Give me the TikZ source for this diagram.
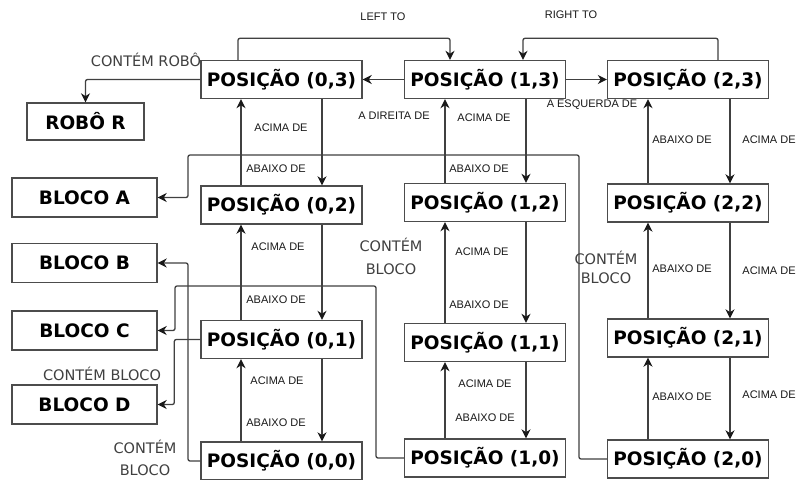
\documentclass[tikz,border=0pt]{standalone}
\usepackage{fontspec}
\setmainfont{DejaVu Sans}
\newfontfamily\smallfont{Liberation Sans}
\usetikzlibrary{arrows.meta}
\begin{document}
\begin{tikzpicture}[x=1pt,y=-1pt,
  posbox/.style={draw=black!70, line width=1.4pt, fill=white, minimum width=161pt, minimum height=38pt, inner sep=0pt, font=\fontsize{18.5}{20}\selectfont\bfseries},
  blkbox/.style={posbox, minimum width=145pt, minimum height=39pt},
  conn/.style={draw=black!75, line width=1.3pt, -{Stealth[length=9pt,width=9pt,color=black!90]}, rounded corners=2pt},
  lab/.style={font=\smallfont\fontsize{11}{12}\selectfont, text=black!90, inner sep=0pt},
  biglab/.style={font=\fontsize{14.5}{17}\selectfont, text=black!75, inner sep=0pt, align=center},
]
\useasboundingbox (0,0) rectangle (797,479);
\fill[white] (0,0) rectangle (797,479);

% position boxes
\node[posbox] (p03) at (281.5,79.5) {POSIÇÃO (0,3)};
\node[posbox] (p13) at (485,79.5) {POSIÇÃO (1,3)};
\node[posbox] (p23) at (688,79.5) {POSIÇÃO (2,3)};
\node[posbox] (p02) at (281.5,205) {POSIÇÃO (0,2)};
\node[posbox] (p12) at (485,202.5) {POSIÇÃO (1,2)};
\node[posbox] (p22) at (688,203) {POSIÇÃO (2,2)};
\node[posbox] (p01) at (281.5,339.5) {POSIÇÃO (0,1)};
\node[posbox] (p11) at (485,342.5) {POSIÇÃO (1,1)};
\node[posbox] (p21) at (688,338) {POSIÇÃO (2,1)};
\node[posbox] (p00) at (281.5,461) {POSIÇÃO (0,0)};
\node[posbox] (p10) at (485,458) {POSIÇÃO (1,0)};
\node[posbox] (p20) at (688,459) {POSIÇÃO (2,0)};
% objects
\node[blkbox, minimum width=117pt, minimum height=37pt] (robo) at (85.5,121.5) {ROBÔ R};
\node[blkbox] (ba) at (84.5,197.5) {BLOCO A};
\node[blkbox] (bb) at (84.5,263) {BLOCO B};
\node[blkbox] (bc) at (84.5,330.5) {BLOCO C};
\node[blkbox] (bd) at (84.5,404.5) {BLOCO D};

% vertical connectors
\foreach \a/\b in {p02/p03,p01/p02,p00/p01}{
  \draw[conn] ([xshift=-40.5pt]\a.north) -- ([xshift=-40.5pt]\b.south);
  \draw[conn] ([xshift=40.5pt]\b.south) -- ([xshift=40.5pt]\a.north);
}
\foreach \a/\b in {p12/p13,p11/p12,p10/p11}{
  \draw[conn] ([xshift=-40pt]\a.north) -- ([xshift=-40pt]\b.south);
  \draw[conn] ([xshift=41pt]\b.south) -- ([xshift=41pt]\a.north);
}
\foreach \a/\b in {p22/p23,p21/p22,p20/p21}{
  \draw[conn] ([xshift=-40pt]\a.north) -- ([xshift=-40pt]\b.south);
  \draw[conn] ([xshift=42pt]\b.south) -- ([xshift=42pt]\a.north);
}

% horizontal connectors
\draw[conn] (p13.west) -- (p03.east);
\draw[conn] (p13.east) -- (p23.west);
\draw[conn] ([xshift=-43.5pt]p03.north) -- ++(0,-21.5) -| ([xshift=-35pt]p13.north);
\draw[conn] ([xshift=30pt]p23.north) -- ++(0,-21.5) -| ([xshift=38pt]p13.north);

% contains connectors
\draw[conn] (p03.west) -| (robo.north);
\coordinate (a1) at (579,155);
\coordinate (a2) at (188,155);
\draw[conn] (p20.west) -| (a1) -- (a2) |- (ba.east);
\coordinate (b1) at (188,263);
\draw[conn] (p00.west) -| (b1) -- (bb.east);
\coordinate (c1) at (376,286);
\coordinate (c2) at (175,286);
\draw[conn] (p10.west) -| (c1) -- (c2) |- (bc.east);
\draw[conn] (p01.west) -- ++(-26,0) |- (bd.east);

% small labels
\node[lab] (lleft) at (383,17) {LEFT TO};
\node[lab] (lright) at (571,15) {RIGHT TO};
\node[lab] (ldir) at (394,116) {A DIREITA DE};
\node[lab] (lesq) at (592,105) {A ESQUERDA DE};
\node[lab] (l1) at (281,128) {ACIMA DE};
\node[lab] (l2) at (276,169) {ABAIXO DE};
\node[lab] (l3) at (278,247) {ACIMA DE};
\node[lab] (l4) at (276,300) {ABAIXO DE};
\node[lab] (l5) at (277,381) {ACIMA DE};
\node[lab] (l6) at (276,423) {ABAIXO DE};
\node[lab] (l7) at (484,118) {ACIMA DE};
\node[lab] (l8) at (479,169) {ABAIXO DE};
\node[lab] (l9) at (482,252) {ACIMA DE};
\node[lab] (l10) at (479,305) {ABAIXO DE};
\node[lab] (l11) at (485,384) {ACIMA DE};
\node[lab] (l12) at (485,418) {ABAIXO DE};
\node[lab] (l13) at (682,140) {ABAIXO DE};
\node[lab] (l14) at (769,140) {ACIMA DE};
\node[lab] (l15) at (682,269) {ABAIXO DE};
\node[lab] (l16) at (769,271) {ACIMA DE};
\node[lab] (l17) at (682,397) {ABAIXO DE};
\node[lab] (l18) at (769,395) {ACIMA DE};

% contains labels
\node[biglab] (crobo) at (146,60) {CONTÉM ROBÔ};
\node[biglab] (cb01) at (102,374) {CONTÉM BLOCO};
\node[biglab] (cb00) at (145,457.5) {CONTÉM\\[5pt]BLOCO};
\node[biglab] (cb10) at (391,256.5) {CONTÉM\\[6pt]BLOCO};
\node[biglab] (cb20) at (606,267.5) {CONTÉM\\[2pt]BLOCO};
\end{tikzpicture}
\end{document}
